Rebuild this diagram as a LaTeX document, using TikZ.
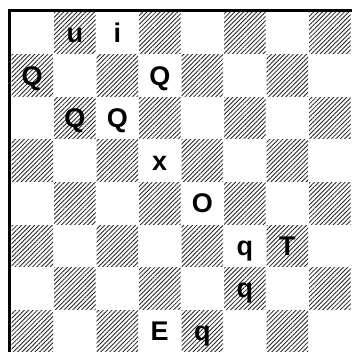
\documentclass[tikz,border=0pt]{standalone}
\usepackage{fontspec}
\setmainfont{Liberation Sans}
\usetikzlibrary{patterns.meta}
\newcommand\boardpiece[4]{\node[piece] (#1) at ({11+(#3+0.5)*42.5},{12+(#2+0.5)*42.5+9.5}) {#4};}
\begin{document}
\begin{tikzpicture}[x=1pt,y=-1pt,
  piece/.style={anchor=base,font=\fontsize{27}{27}\selectfont\bfseries,inner sep=0pt},
  darksq/.style={pattern={Lines[angle=45,distance=3.1pt,line width=0.85pt]},pattern color=black!85},
  frame/.style={line width=3pt,draw=black}]
\useasboundingbox (0,0) rectangle (352,352);
\fill[white] (0,0) rectangle (352,352);
\foreach \r in {0,...,7}{\foreach \c in {0,...,7}{
  \pgfmathtruncatemacro\sqpar{mod(\r+\c,2)}
  \ifnum\sqpar=1
    \fill[darksq] ({11.5+\c*42.5},{12.5+\r*42.5}) rectangle ++(41.5,41.5);
  \fi}}
\draw[frame] (9.5,352) -- (9.5,10.5) -- (352,10.5);
\boardpiece{p01}{0}{1}{u}
\boardpiece{p02}{0}{2}{i}
\boardpiece{p10}{1}{0}{Q}
\boardpiece{p13}{1}{3}{Q}
\boardpiece{p21}{2}{1}{Q}
\boardpiece{p22}{2}{2}{Q}
\boardpiece{p33}{3}{3}{x}
\boardpiece{p44}{4}{4}{O}
\boardpiece{p55}{5}{5}{q}
\boardpiece{p56}{5}{6}{T}
\boardpiece{p65}{6}{5}{q}
\boardpiece{p73}{7}{3}{E}
\boardpiece{p74}{7}{4}{q}
\end{tikzpicture}
\end{document}
